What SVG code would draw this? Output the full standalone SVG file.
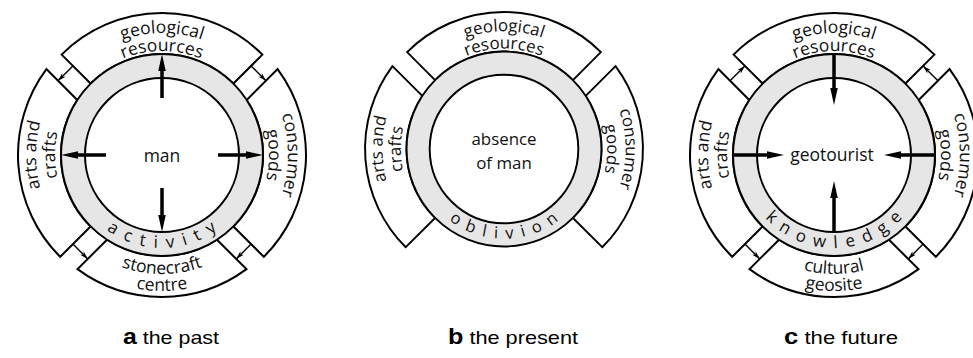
<svg xmlns="http://www.w3.org/2000/svg" xmlns:xlink="http://www.w3.org/1999/xlink" width="973" height="358" viewBox="0 0 973 358">
<style>
.box{fill:#fff;stroke:#000;stroke-width:2;stroke-linejoin:miter}
.ringo{fill:#e6e6e6;stroke:#000;stroke-width:2}
.ringi{fill:#fff;stroke:#000;stroke-width:2}
.t{font-family:"Open Sans","Noto Sans",sans-serif;font-size:17.5px;fill:#111}
.rt{font-family:"Open Sans","Noto Sans",sans-serif;font-size:17px;fill:#111}
.big{fill:#000;stroke:none}
.sm{stroke:#000;stroke-width:1.4;fill:none;marker-end:url(#sh)}
.cap{font-family:"Liberation Sans",Arial,sans-serif;font-size:19px;fill:#000}
</style>
<defs>
<marker id="sh" viewBox="0 0 10 6" refX="10" refY="3" markerWidth="10" markerHeight="5" markerUnits="userSpaceOnUse" orient="auto"><path d="M0,0 L10,3 L0,6 L3,3 Z" fill="#000"/></marker>
<path id="boxTop" d="M -71.42,-71.42 L -100.41,-100.41 A 142 142 0 0 1 100.41,-100.41 L 71.42,-71.42 A 101 101 0 0 0 -71.42,-71.42 Z"/>
<path id="boxL" d="M -84.71,-55.01 L -115.59,-85.89 A 144 144 0 0 0 -101.82,101.82 L -71.42,71.42 A 101 101 0 0 1 -84.71,-55.01 Z"/>
<path id="boxR" d="M 84.71,-55.01 L 115.59,-85.89 A 144 144 0 0 1 101.82,101.82 L 71.42,71.42 A 101 101 0 0 0 84.71,-55.01 Z"/>
<path id="boxB" d="M -55.01,84.71 L -84.46,114.16 A 142 142 0 0 0 84.46,114.16 L 55.01,84.71 A 101 101 0 0 1 -55.01,84.71 Z"/>
<path id="pT1" d="M -122,0 A 122 122 0 0 1 122,0"/>
<path id="pT2" d="M -104,0 A 104 104 0 0 1 104,0"/>
<path id="pL1" d="M 0,126 A 126 126 0 0 1 0,-126"/>
<path id="pL2" d="M 0,107 A 107 107 0 0 1 0,-107"/>
<path id="pR1" d="M 0,-126 A 126 126 0 0 1 0,126"/>
<path id="pR2" d="M 0,-107 A 107 107 0 0 1 0,107"/>
<path id="pB1" d="M -119,0 A 119 119 0 0 0 119,0"/>
<path id="pB2" d="M -136,0 A 136 136 0 0 0 136,0"/>
<path id="pRing" d="M -93,0 A 93 93 0 0 0 93,0"/>
</defs>

<!-- ===== a: the past ===== -->
<g id="diagram-a" transform="translate(162,155)">
  <g id="a-resources"><use href="#boxTop" class="box"/>
    <text class="t"><textPath href="#pT1" startOffset="50%" text-anchor="middle">geological</textPath></text>
    <text class="t"><textPath href="#pT2" startOffset="50%" text-anchor="middle">resources</textPath></text></g>
  <g id="a-arts"><use href="#boxL" class="box"/>
    <text class="t"><textPath href="#pL1" startOffset="50%" text-anchor="middle">arts and</textPath></text>
    <text class="t"><textPath href="#pL2" startOffset="50%" text-anchor="middle">crafts</textPath></text></g>
  <g id="a-consumer"><use href="#boxR" class="box"/>
    <text class="t"><textPath href="#pR1" startOffset="50%" text-anchor="middle">consumer</textPath></text>
    <text class="t"><textPath href="#pR2" startOffset="50%" text-anchor="middle">goods</textPath></text></g>
  <g id="a-stonecraft"><use href="#boxB" class="box"/>
    <text class="t"><textPath href="#pB1" startOffset="50%" text-anchor="middle">stonecraft</textPath></text>
    <text class="t"><textPath href="#pB2" startOffset="50%" text-anchor="middle">centre</textPath></text></g>
  <g id="a-man">
    <circle r="101" class="ringo"/><circle r="77" class="ringi"/>
    <text class="rt" letter-spacing="9"><textPath href="#pRing" startOffset="50%" text-anchor="middle"><tspan dx="4.5">activity</tspan></textPath></text>
    <text class="t" x="0" y="6.5" text-anchor="middle" font-size="18.5">man</text>
  </g>
  <g id="a-connectors">
    <path class="big" d="M -1.75,-57 L -1.75,-84 L -3.75,-84 L 0,-101 L 3.75,-84 L 1.75,-84 L 1.75,-57 Z"/>
    <path class="big" d="M -56,-1.75 L -84,-1.75 L -84,-3.75 L -101,0 L -84,3.75 L -84,1.75 L -56,1.75 Z"/>
    <path class="big" d="M 56,-1.75 L 84,-1.75 L 84,-3.75 L 101,0 L 84,3.75 L 84,1.75 L 56,1.75 Z"/>
    <path class="big" d="M -1.75,33 L -1.75,60 L -3.75,60 L 0,77 L 3.75,60 L 1.75,60 L 1.75,33 Z"/>
    <line class="sm" x1="-89.1" y1="-89.1" x2="-103.95" y2="-74.25"/>
    <line class="sm" x1="89.1" y1="-89.1" x2="103.95" y2="-74.25"/>
    <line class="sm" x1="-89.1" y1="89.1" x2="-74.25" y2="103.95"/>
    <line class="sm" x1="89.1" y1="89.1" x2="74.25" y2="103.95"/>
  </g>
</g>

<!-- ===== b: the present ===== -->
<g id="diagram-b" transform="translate(504,149) scale(0.965)">
  <g id="b-resources"><use href="#boxTop" class="box"/>
    <text class="t"><textPath href="#pT1" startOffset="50%" text-anchor="middle">geological</textPath></text>
    <text class="t"><textPath href="#pT2" startOffset="50%" text-anchor="middle">resources</textPath></text></g>
  <g id="b-arts"><use href="#boxL" class="box"/>
    <text class="t"><textPath href="#pL1" startOffset="50%" text-anchor="middle">arts and</textPath></text>
    <text class="t"><textPath href="#pL2" startOffset="50%" text-anchor="middle">crafts</textPath></text></g>
  <g id="b-consumer"><use href="#boxR" class="box"/>
    <text class="t"><textPath href="#pR1" startOffset="50%" text-anchor="middle">consumer</textPath></text>
    <text class="t"><textPath href="#pR2" startOffset="50%" text-anchor="middle">goods</textPath></text></g>
  <g id="b-absence">
    <circle r="101" class="ringo"/><circle r="77" class="ringi"/>
    <text class="rt" letter-spacing="8.5"><textPath href="#pRing" startOffset="50%" text-anchor="middle"><tspan dx="4.2">oblivion</tspan></textPath></text>
    <text class="t" x="0" y="-4" text-anchor="middle" font-size="18.5">absence</text>
    <text class="t" x="0" y="21" text-anchor="middle" font-size="18.5">of man</text>
  </g>
</g>

<!-- ===== c: the future ===== -->
<g id="diagram-c" transform="translate(834,155)">
  <g id="c-resources"><use href="#boxTop" class="box"/>
    <text class="t"><textPath href="#pT1" startOffset="50%" text-anchor="middle">geological</textPath></text>
    <text class="t"><textPath href="#pT2" startOffset="50%" text-anchor="middle">resources</textPath></text></g>
  <g id="c-arts"><use href="#boxL" class="box"/>
    <text class="t"><textPath href="#pL1" startOffset="50%" text-anchor="middle">arts and</textPath></text>
    <text class="t"><textPath href="#pL2" startOffset="50%" text-anchor="middle">crafts</textPath></text></g>
  <g id="c-consumer"><use href="#boxR" class="box"/>
    <text class="t"><textPath href="#pR1" startOffset="50%" text-anchor="middle">consumer</textPath></text>
    <text class="t"><textPath href="#pR2" startOffset="50%" text-anchor="middle">goods</textPath></text></g>
  <g id="c-geosite"><use href="#boxB" class="box"/>
    <text class="t"><textPath href="#pB1" startOffset="50%" text-anchor="middle">cultural</textPath></text>
    <text class="t"><textPath href="#pB2" startOffset="50%" text-anchor="middle">geosite</textPath></text></g>
  <g id="c-geotourist">
    <circle r="101" class="ringo"/><circle r="77" class="ringi"/>
    <text class="rt" letter-spacing="8.6"><textPath href="#pRing" startOffset="50%" text-anchor="middle"><tspan dx="4.3">knowledge</tspan></textPath></text>
    <text class="t" x="-2" y="6" text-anchor="middle" font-size="17.5">geotourist</text>
  </g>
  <g id="c-connectors">
    <path class="big" d="M -1.75,-101 L -1.75,-67 L -3.75,-67 L 0,-50 L 3.75,-67 L 1.75,-67 L 1.75,-101 Z"/>
    <path class="big" d="M -101,-1.75 L -67,-1.75 L -67,-3.75 L -50,0 L -67,3.75 L -67,1.75 L -101,1.75 Z"/>
    <path class="big" d="M 101,-1.75 L 67,-1.75 L 67,-3.75 L 50,0 L 67,3.75 L 67,1.75 L 101,1.75 Z"/>
    <path class="big" d="M -1.75,77 L -1.75,43 L -3.75,43 L 0,26 L 3.75,43 L 1.75,43 L 1.75,77 Z"/>
    <line class="sm" x1="-103.95" y1="-74.25" x2="-89.1" y2="-89.1"/>
    <line class="sm" x1="103.95" y1="-74.25" x2="89.1" y2="-89.1"/>
    <line class="sm" x1="-89.1" y1="89.1" x2="-74.25" y2="103.95"/>
    <line class="sm" x1="89.1" y1="89.1" x2="74.25" y2="103.95"/>
  </g>
</g>

<g id="captions">
  <text class="cap" x="123" y="344" textLength="96" lengthAdjust="spacingAndGlyphs"><tspan font-weight="bold" font-size="22">a</tspan> the past</text>
  <text class="cap" x="448" y="344" textLength="130" lengthAdjust="spacingAndGlyphs"><tspan font-weight="bold" font-size="22">b</tspan> the present</text>
  <text class="cap" x="784" y="344" textLength="114" lengthAdjust="spacingAndGlyphs"><tspan font-weight="bold" font-size="22">c</tspan> the future</text>
</g>
</svg>
